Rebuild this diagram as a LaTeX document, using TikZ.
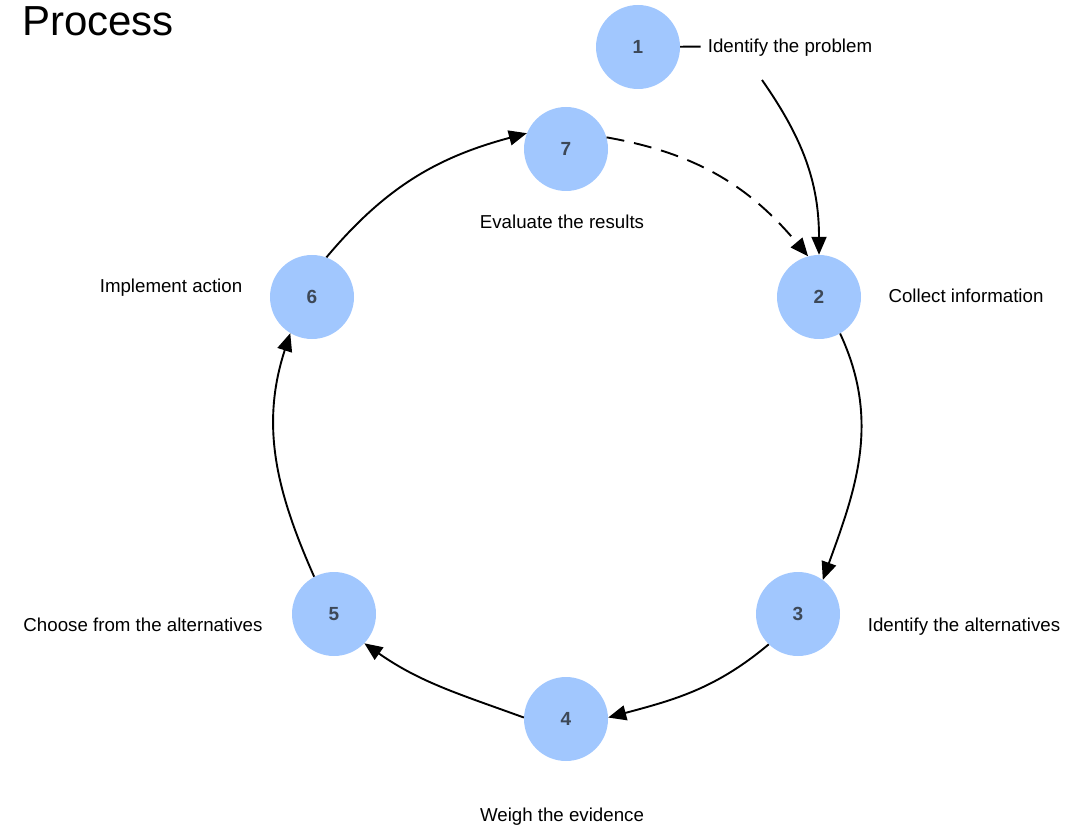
\documentclass[tikz,border=0pt]{standalone}
\usepackage{fontspec}
\setmainfont{Liberation Sans}
\usetikzlibrary{arrows.meta}

\definecolor{stepblue}{HTML}{A1C7FE}
\definecolor{numgray}{HTML}{3D4857}

\begin{document}
\begin{tikzpicture}[
    x=1pt, y=-1pt,
    % Stili
    stage/.style={
        circle, fill=stepblue, minimum size=84pt, inner sep=0pt,
        font=\fontsize{19}{22}\selectfont\bfseries, text=numgray
    },
    caption/.style={
        font=\fontsize{18.7}{22}\selectfont, inner sep=7pt,
        text height=13pt, text depth=0pt
    },
    link/.style={line width=1.9pt},
    arrow/.style={link, -{Triangle[length=18pt,width=15pt]}},
    retry/.style={arrow, dash pattern=on 18pt off 10pt}
]
\useasboundingbox (0,0) rectangle (1084,826);

% Titolo
\node[font=\fontsize{42}{46}\selectfont, anchor=base west, inner sep=0pt] (title) at (22,36) {Process};

% Fasi
\node[stage] (n1) at (638,47) {1};
\node[stage] (n7) at (566,149) {7};
\node[stage] (n2) at (819,297) {2};
\node[stage] (n6) at (312,297) {6};
\node[stage] (n3) at (798,614) {3};
\node[stage] (n5) at (334,614) {5};
\node[stage] (n4) at (566,719) {4};

% Etichette
\node[caption] (lbl1) at (790,46) {Identify the problem};
\node[caption] (lbl7) at (562,222) {Evaluate the results};
\node[caption] (lbl2) at (966,296) {Collect information};
\node[caption] (lbl6) at (171,286) {Implement action};
\node[caption] (lbl3) at (964,625) {Identify the alternatives};
\node[caption] (lbl5) at (143,625) {Choose from the alternatives};
\node[caption] (lbl4) at (562,815) {Weigh the evidence};

\coordinate (lbl1out) at (762,80);

% Flusso
\draw[link] (n1) -- (lbl1);
\draw[arrow] (lbl1out) to[out=-55, in=90] (n2.90);
\draw[arrow] (n2.-60) to[out=-65, in=70] (n3.54);
\draw[arrow] (n3.-134) to[out=-140, in=15] (n4.2);
\draw[arrow] (n4.178) to[out=160, in=-35] (n5.-44);
\draw[arrow] (n5.118) to[out=114, in=-108] (n6.-121);
\draw[arrow] (n6.70) to[out=50, in=-165] (n7.158);
\draw[retry] (n7.16) to[out=-10, in=130] (n2.105);

\end{tikzpicture}
\end{document}
